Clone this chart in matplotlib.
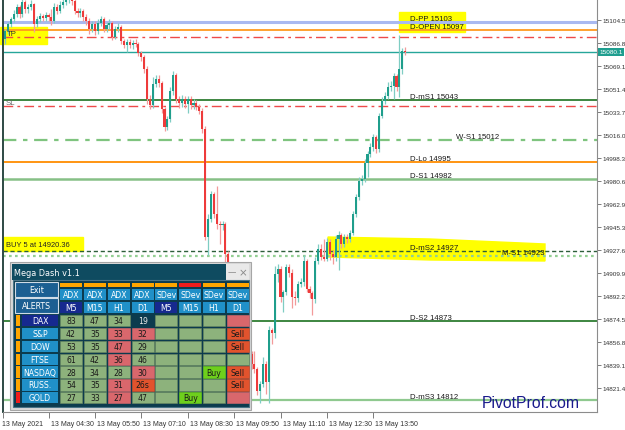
import matplotlib
matplotlib.use('Agg')
import matplotlib.pyplot as plt
import matplotlib.transforms as mtransforms
from matplotlib.patches import Rectangle, Polygon
import numpy as np

# ---------------- data ----------------
first_open = 15090.0
close = [15096.1, 15101.5, 15105.3, 15109.2, 15114.5, 15109.2, 15118.4, 15113.0, 15114.5, 15116.8,
         15101.5, 15105.3, 15107.6, 15106.1, 15108.4, 15106.9, 15103.8, 15114.5, 15111.5, 15116.1,
         15118.4, 15120.7, 15122.2, 15119.2, 15111.5, 15109.9, 15111.5, 15106.9, 15103.8, 15097.6,
         15101.5, 15096.1, 15102.2, 15105.3, 15097.6, 15100.7, 15102.2, 15091.5, 15097.6, 15099.2,
         15088.4, 15085.3, 15087.6, 15085.3, 15086.9, 15086.1, 15079.2, 15076.1, 15066.9, 15043.8,
         15039.2, 15055.3, 15059.2, 15056.1, 15036.1, 15022.2, 15028.4, 15049.9, 15062.3, 15043.8,
         15040.7, 15043.8, 15039.9, 15043.8, 15039.2, 15040.7, 15037.6, 15034.5, 15020.7, 14937.6,
         14951.5, 14970.7, 14955.3, 14947.6, 14946.9, 14947.6, 14924.5, 14905.0, 14890.0, 14874.6,
         14859.2, 14866.9, 14851.5, 14843.8, 14847.6, 14840.0, 14836.1, 14819.2, 14824.6, 14840.0,
         14826.0, 14866.0, 14864.0, 14909.0, 14913.0, 14891.5, 14895.3, 14914.6, 14909.9, 14891.5,
         14890.5, 14901.5, 14903.0, 14919.2, 14897.6, 14894.6, 14890.0, 14919.2, 14928.4, 14922.2,
         14921.0, 14933.8, 14924.5, 14922.2, 14936.1, 14939.2, 14932.2, 14937.6, 14936.1, 14940.7,
         14955.3, 14968.4, 14980.7, 14982.3, 14994.6, 15001.5, 15006.9, 15014.6, 15005.3, 15030.7,
         15042.2, 15046.1, 15053.0, 15053.8, 15061.5, 15053.0, 15066.9, 15080.7, 15080.1]
high = [15098, 15103, 15107, 15112, 15117, 15116, 15123, 15120, 15117, 15120,
        15118, 15108, 15110, 15109, 15111, 15110, 15113, 15118, 15117, 15119,
        15122, 15125, 15126, 15125, 15121, 15114, 15114, 15113, 15109, 15106,
        15104, 15104, 15105, 15108, 15107, 15103, 15105, 15104, 15100, 15102,
        15101, 15090, 15090, 15090, 15089, 15090, 15088, 15081, 15078, 15069,
        15047, 15061, 15062, 15062, 15058, 15038, 15031, 15053, 15065, 15064,
        15046, 15047, 15046, 15046, 15046, 15044, 15043, 15040, 15037, 15023,
        14955, 14973, 14972, 14977, 14950, 14950, 14949, 14927, 14908, 14893,
        14877, 14870, 14869, 14854, 14852, 14850, 14850, 14838, 14827, 14845,
        14842, 14869, 14868, 14915, 14917, 14915, 14897, 14917, 14917, 14913,
        14896, 14904, 14906, 14924, 14921, 14900, 14896, 14922, 14932, 14932,
        14936, 14937, 14936, 14928, 14939, 14942, 14941, 14940, 14940, 14943,
        14958, 14971, 14984, 14985, 14998, 15004, 15010, 15017, 15016, 15033,
        15045, 15049, 15057, 15058, 15064, 15063, 15093, 15083, 15084]
low = [15086, 15094, 15099, 15103, 15107, 15106, 15107, 15110, 15110, 15112,
       15095, 15099, 15103, 15104, 15104, 15104, 15101, 15102, 15109, 15110,
       15114, 15116, 15118, 15116, 15109, 15107, 15107, 15104, 15101, 15094,
       15095, 15093, 15094, 15100, 15095, 15095, 15098, 15089, 15090, 15095,
       15086, 15083, 15080, 15083, 15082, 15084, 15077, 15073, 15064, 15040,
       15036, 15037, 15053, 15053, 15033, 15019, 15020, 15026, 15047, 15041,
       15037, 15038, 15037, 15033, 15036, 15036, 15035, 15032, 15018, 14935,
       14924, 14949, 14952, 14944, 14932, 14943, 14915, 14900, 14886, 14870,
       14855, 14856, 14848, 14840, 14841, 14836, 14833, 14816, 14810, 14822,
       14817, 14810, 14855, 14860, 14903, 14888, 14880, 14893, 14907, 14883,
       14885, 14888, 14899, 14900, 14895, 14891, 14878, 14887, 14917, 14920,
       14919, 14919, 14920, 14917, 14919, 14912, 14929, 14930, 14933, 14934,
       14939, 14953, 14966, 14978, 14980, 14984, 14999, 15004, 15002, 15003,
       15029, 15040, 15044, 15050, 15044, 15050, 15045, 15063, 15078]

bar_start_minutes = 3 * 60 + 15     # first M5 bar 03:15
bar_minutes = 5
date_label = '13 May 2021'
day_prefix = '13 May'
tick_times = ['04:30', '05:50', '07:10', '08:30', '09:50', '11:10', '12:30', '13:50']

ytick_values = [15104.5, 15086.8, 15069.1, 15051.4, 15033.7, 15016.0, 14998.3, 14980.6,
                14962.9, 14945.3, 14927.6, 14909.9, 14892.2, 14874.5, 14856.8, 14839.1, 14821.4]
last_price = 15080.1

level_names = ['D-PP', 'D-OPEN', 'D-mS1', 'W-S1', 'D-Lo', 'D-S1', 'D-mS2', 'M-S1', 'D-S2', 'D-mS3']
level_values = [15103, 15097, 15043, 15012, 14995, 14982, 14927, 14923, 14873, 14812]
tp_level = 15091.5
sl_level = 15038.4
order_text = 'BUY 5 at 14920.36'

dash_title = 'Mega Dash v1.1'
dash_buttons = ['Exit', 'ALERTS']
ind_names = ['ADX', 'ADX', 'ADX', 'ADX', 'SDev', 'SDev', 'SDev', 'SDev']
ind_tfs = ['M5', 'M15', 'H1', 'D1', 'M5', 'M15', 'H1', 'D1']
ind_flag = ['o', 'o', 'o', 'o', 'o', 'r', 'o', 'o']
symbols = ['DAX', 'S&P', 'DOW', 'FTSE', 'NASDAQ', 'RUSS.', 'GOLD']
symbol_flag = ['o', 'o', 'o', 'o', 'o', 'o', 'r']
adx_text = [['83', '47', '34', '19'], ['42', '35', '33', '32'], ['53', '35', '47', '29'],
            ['61', '42', '36', '46'], ['28', '34', '28', '30'], ['54', '35', '31', '26s'],
            ['27', '33', '27', '47']]
adx_state = [['g', 'g', 'g', 'n'], ['g', 'g', 'r', 'r'], ['g', 'g', 'r', 'g'],
             ['g', 'g', 'r', 'g'], ['g', 'g', 'g', 'r'], ['g', 'g', 'r', 's'],
             ['g', 'g', 'r', 'g']]
sdev_text = [['', '', '', ''], ['', '', '', 'Sell'], ['', '', '', 'Sell'], ['', '', '', ''],
             ['', '', 'Buy', 'Sell'], ['', '', '', 'Sell'], ['', 'Buy', '', '']]
sdev_state = [['g', 'g', 'g', 'r'], ['g', 'g', 'g', 's'], ['g', 'g', 'g', 's'], ['g', 'g', 'g', 'g'],
              ['g', 'g', 'b', 's'], ['g', 'g', 'g', 's'], ['g', 'b', 'g', 'r']]
brand = 'PivotProf.com'

# ---------------- figure ----------------
W, H = 625, 431
fig = plt.figure(figsize=(W / 100, H / 100), dpi=100)
fig.patch.set_facecolor('white')
FONT = ['Liberation Sans', 'DejaVu Sans']

# main chart axes (pixel layout: x 3..597, y 0..413)
ax = fig.add_axes([3 / W, (H - 413) / H, 594 / W, 413 / H])
bar_px, bar0_px = 2.9, 5.0
ax.set_xlim((3 - bar0_px) / bar_px, (597 - bar0_px) / bar_px)
top_price, px_per_pt = 15120.7, 1.3
ax.set_ylim(top_price - 413 / px_per_pt, top_price)
ax.set_facecolor('white')

pxT = mtransforms.Affine2D().scale(1, -1).translate(0, H)
blend = mtransforms.blended_transform_factory(pxT, ax.transData)

# candles
c = np.array(close)
o = np.array([first_open] + close[:-1])
hi = np.maximum(np.array(high, float), np.maximum(o, c))
lo = np.minimum(np.array(low, float), np.minimum(o, c))
x = np.arange(len(c))
up = c >= o
ax.vlines(x, lo, hi, colors=np.where(up, '#7fcdc3', '#f39a9a'), lw=0.9, zorder=3)
body = np.maximum(np.abs(c - o), 0.7)
ax.bar(x, body, bottom=np.minimum(o, c), width=0.72,
       color=np.where(up, '#1f9e8c', '#ee3b3b'), zorder=4, linewidth=0)

# highlights (yellow marker)
Y = '#ffff00'
ax.add_patch(Rectangle((0, 28), 47, 17, transform=pxT, color=Y, zorder=1, clip_on=False))
ax.add_patch(Rectangle((399, 13), 66, 20, transform=pxT, color=Y, zorder=1))
ax.add_patch(Polygon([(328, 238), (430, 240), (545, 245), (545, 262), (430, 261), (328, 258)],
                     closed=True, transform=pxT, color=Y, zorder=1))
ax.add_patch(Rectangle((3, 238), 80, 14, transform=pxT, color=Y, zorder=1))

# level lines
styles = {
    'D-PP': ('#a9b9f0', 2.2, '-', 410),
    'D-OPEN': ('#ff9a1f', 1.3, '-', 410),
    'D-mS1': ('#2e7d32', 1.3, '-', 410),
    'W-S1': ('#7fc47f', 1.6, (0, (6, 3, 2, 3)), 456),
    'D-Lo': ('#ff8c00', 1.3, '-', 410),
    'D-S1': ('#86c086', 1.8, '-', 410),
    'D-mS2': ('#2d5e3a', 1.0, (0, (3, 2)), 410),
    'M-S1': ('#93cf93', 1.6, (0, (1.2, 1.5)), 502),
    'D-S2': ('#2e7d32', 1.3, '-', 410),
    'D-mS3': ('#8fc98f', 1.6, '-', 410),
}
for name, val in zip(level_names, level_values):
    col, lw, ls, lx = styles[name]
    ax.axhline(val, color=col, lw=lw, ls=ls, zorder=2)
    ax.annotate(f'{name} {val}', xy=(lx, val), xycoords=blend, xytext=(0, 1.6),
                textcoords='offset points', ha='left', va='baseline', fontsize=5.6,
                family=FONT, color='#1a1a1a', zorder=6, annotation_clip=False)

for lvl in (tp_level, sl_level):
    ax.axhline(lvl, color='#ee4a4a', lw=1.0, ls=(0, (7, 3, 2, 3)), zorder=2)
ax.axhline(last_price, color='#26a69a', lw=1.0, zorder=2)

ax.annotate('TP', xy=(7, tp_level), xycoords=blend, xytext=(0, 1.5), textcoords='offset points',
            ha='left', va='baseline', fontsize=5.6, family=FONT, color='#333333', zorder=6)
ax.annotate('SL', xy=(6, sl_level), xycoords=blend, xytext=(0, 1.5), textcoords='offset points',
            ha='left', va='baseline', fontsize=5.6, family=FONT, color='#666666', zorder=6)
ax.text(6, 245.5, order_text, transform=pxT, ha='left', va='center', fontsize=5.4,
        family=FONT, color='#222222', zorder=6)

# last price box
ax.annotate(f'{last_price:.1f}', xy=(599, last_price), xycoords=blend, ha='left', va='center',
            fontsize=4.6, family=FONT, color='white', annotation_clip=False, zorder=7,
            bbox=dict(boxstyle='square,pad=0.22', fc='#1f9e8f', ec='none'))

# axes styling
ax.spines['top'].set_visible(False)
ax.spines['left'].set_color('#2d4a44')
ax.spines['left'].set_linewidth(1.4)
ax.spines['right'].set_color('#8c8c8c')
ax.spines['right'].set_linewidth(0.8)
ax.spines['bottom'].set_color('#8c8c8c')
ax.spines['bottom'].set_linewidth(0.8)

ax.yaxis.tick_right()
ax.set_yticks(ytick_values)
ax.set_yticklabels([f'{v:.1f}' for v in ytick_values])
ax.tick_params(axis='y', length=3, width=0.6, color='#666666', labelsize=4.6, pad=1.2,
               labelcolor='#333333')
for lbl in ax.get_yticklabels():
    lbl.set_family(FONT)

def t2idx(t):
    hh, mm = t.split(':')
    return (int(hh) * 60 + int(mm) - bar_start_minutes) / bar_minutes

xt = [ax.get_xlim()[0]] + [t2idx(t) for t in tick_times]
xl = [date_label] + [f'{day_prefix} {t}' for t in tick_times]
ax.set_xticks(xt)
ax.set_xticklabels(xl, ha='left')
ax.tick_params(axis='x', length=4, width=0.6, color='#666666', labelsize=5, pad=1.5,
               labelcolor='#333333')
for i, lbl in enumerate(ax.get_xticklabels()):
    lbl.set_family(FONT)
    dx = -1 / 100 if i == 0 else 2 / 100
    lbl.set_transform(lbl.get_transform() + mtransforms.ScaledTranslation(dx, 0, fig.dpi_scale_trans))

# ---------------- dashboard overlay (pixel coords) ----------------
ov = fig.add_axes([0, 0, 1, 1], zorder=10)
ov.set_xlim(0, W)
ov.set_ylim(H, 0)
ov.axis('off')
ov.patch.set_alpha(0)

def box(x0, y0, w, h, fc, ec=None, lw=0.0):
    ov.add_patch(Rectangle((x0, y0), w, h, facecolor=fc, edgecolor=ec if ec else fc, lw=lw))

def txt(x0, y0, s, color, size=5.6, ha='center'):
    ov.text(x0, y0, s, color=color, fontsize=size, ha=ha, va='center', family=['DejaVu Sans'])

box(10, 263, 241, 148, '#d9d9d9', '#a6a6a6', 0.8)
box(12, 265, 214, 16, '#0f4b60')
box(226, 265, 23, 16, '#e9e9e9')
txt(232, 273, '\u2014', '#8a8a8a', 6)
txt(243, 273, '\u00d7', '#8a8a8a', 7.5)
txt(14, 273.5, dash_title, 'white', 5.9, ha='left')
box(12.5, 281, 236.5, 127, '#0c3b4e', '#4b7487', 0.8)

btn_y = [283, 299]
for by, bt in zip(btn_y, dash_buttons):
    box(15, by, 43, 14.5, '#1c5f92', '#cfdbe6', 0.8)
    txt(36.5, by + 7.3, bt, 'white', 5.7)

col_x0, col_pitch, col_w = 60, 23.85, 22
flag_col = {'o': '#ffa500', 'r': '#ee1c1c'}
for j in range(8):
    cx = col_x0 + j * col_pitch
    box(cx, 284, col_w, 3.5, flag_col[ind_flag[j]])
    box(cx, 289.5, col_w, 11.5, '#2090c8')
    txt(cx + col_w / 2, 295.3, ind_names[j], 'white', 5.6)
    fc = '#16298f' if ind_tfs[j] == 'M5' else '#2090c8'
    box(cx, 302.5, col_w, 11.5, fc)
    txt(cx + col_w / 2, 308.3, ind_tfs[j], 'white', 5.6)

state_col = {'g': '#8db27c', 'r': '#d9676c', 's': '#e2532d', 'b': '#6ecf1c', 'n': '#0c3b4e'}
row_y0, row_pitch, row_h = 316, 12.85, 11.3
for i, sym in enumerate(symbols):
    ry = row_y0 + i * row_pitch
    box(16, ry, 3.5, row_h, flag_col[symbol_flag[i]])
    box(22, ry, 36, row_h, '#16298f' if i == 0 else '#2090c8')
    txt(40, ry + row_h / 2, sym, 'white', 5.6)
    cells = [(adx_text[i][k], adx_state[i][k]) for k in range(4)] + \
            [(sdev_text[i][k], sdev_state[i][k]) for k in range(4)]
    for j, (s, st) in enumerate(cells):
        cx = col_x0 + j * col_pitch
        if st != 'n':
            box(cx, ry, col_w, row_h, state_col[st], '#6f8c60' if st == 'g' else None, 0.4)
        if s:
            txt(cx + col_w / 2, ry + row_h / 2, s, '#e8e8e8' if st == 'n' else '#1a1a1a', 5.6)

ov.text(482, 404, brand, fontsize=11.3, color='#1a1a8c', ha='left', va='center', family=FONT)

fig.savefig('out.png', dpi=100, facecolor='white')
